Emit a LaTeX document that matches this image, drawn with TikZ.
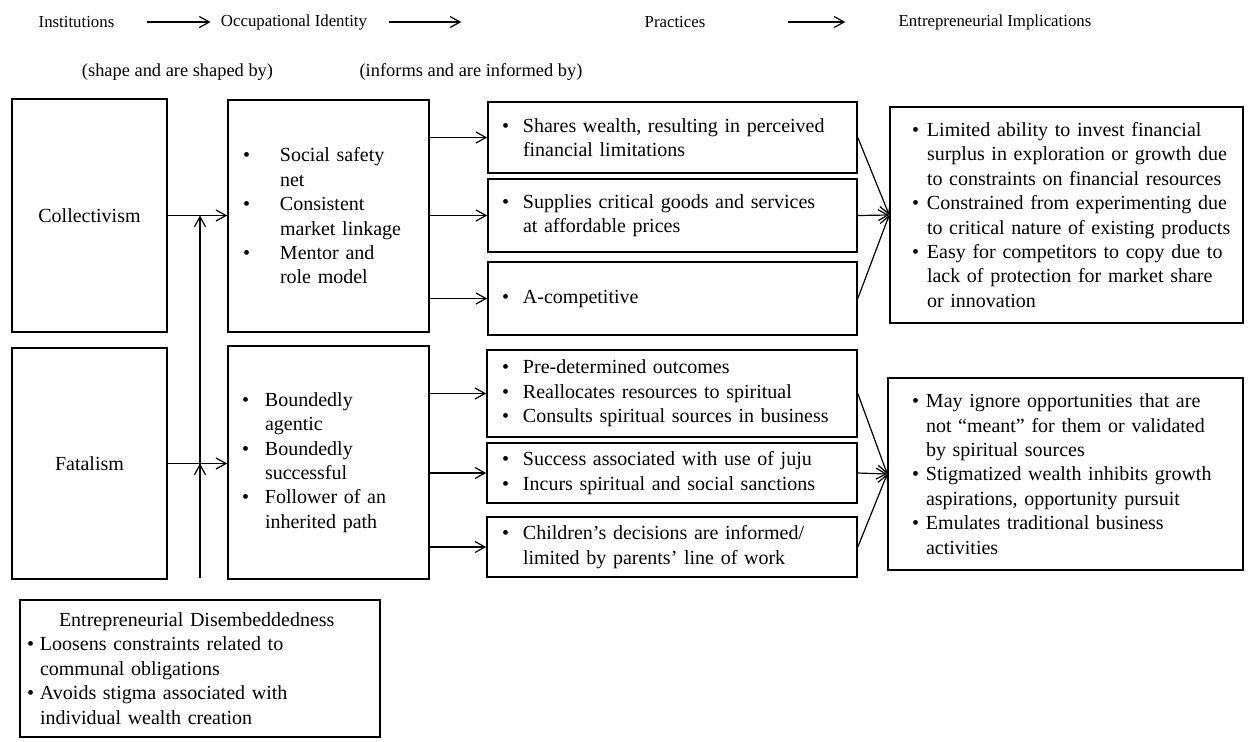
\documentclass[tikz,border=0pt]{standalone}
\usepackage{fontspec}
\setmainfont{Liberation Serif}
\usetikzlibrary{arrows.meta}

\newlength{\bulw}
\newcommand{\bul}[1]{\mbox{\makebox[\bulw][l]{\textbullet}#1}}
\newcommand{\ind}[1]{\mbox{\hspace{\bulw}#1}}

\begin{document}
\begin{tikzpicture}[
    x=0.5pt, y=-0.5pt,
    >={Straight Barb[length=5pt,width=5.5pt]},
    box/.style={draw=black, line width=0.8pt, inner sep=0pt,
        font=\fontsize{10}{12.2}\selectfont},
    listbox/.style n args={4}{box, align=left, inner xsep=#1,
        text width=#2, minimum height=#3,
        execute at begin node={\setlength{\bulw}{#4}}},
    head/.style={inner sep=0pt, font=\fontsize{8.4}{10}\selectfont},
    sub/.style={inner sep=0pt, font=\fontsize{9.2}{11}\selectfont},
    link/.style={->, line width=0.6pt}
]
    \useasboundingbox (0,0) rectangle (1248,741);

    % header row
    \node[head] (hinst) at (76.5,22) {Institutions};
    \node[head] (hocc) at (294,22) {Occupational Identity};
    \node[head] (hprac) at (675,22) {Practices};
    \node[head] (himpl) at (995,22) {Entrepreneurial Implications};
    \node[sub] (hshape) at (177.5,72) {(shape and are shaped by)};
    \node[sub] (hinform) at (471,72) {(informs and are informed by)};
    \draw[link, shorten <=16pt, shorten >=5pt] (hinst) -- (hocc);
    \draw[link, shorten <=11pt, shorten >=91.5pt] (hocc) -- (hprac);
    \draw[link, shorten <=41pt, shorten >=26.5pt] (hprac) -- (himpl);

    % institutions
    \node[box, minimum width=77.5pt, minimum height=116.5pt] (collect) at (89.5,215.5) {Collectivism};
    \node[box, minimum width=77.5pt, minimum height=115.5pt] (fatal) at (89.5,463.5) {Fatalism};

    % occupational identity
    \node[listbox={7.5pt}{85.5pt}{116pt}{18.5pt}] (socid) at (328.5,216)
        {\bul{Social safety}\\ \ind{net}\\
         \bul{Consistent}\\ \ind{market linkage}\\
         \bul{Mentor and}\\ \ind{role model}};
    \node[listbox={7pt}{86.5pt}{116.5pt}{11.5pt}] (fateid) at (328.5,462.5)
        {\bul{Boundedly}\\ \ind{agentic}\\
         \bul{Boundedly}\\ \ind{successful}\\
         \bul{Follower of an}\\ \ind{inherited path}};

    % practices
    \node[listbox={7pt}{170.5pt}{35.5pt}{10.5pt}] (pshare) at (672.5,137.5)
        {\bul{Shares wealth, resulting in perceived}\\ \ind{financial limitations}};
    \node[listbox={7pt}{170.5pt}{36.5pt}{10.5pt}] (psupply) at (672.5,215.5)
        {\bul{Supplies critical goods and services}\\ \ind{at affordable prices}};
    \node[listbox={7pt}{170.5pt}{36.5pt}{10.5pt}] (pacomp) at (672.5,298.5)
        {\bul{A-competitive}};
    \node[listbox={7.5pt}{170pt}{43.5pt}{10.5pt}] (pfate) at (672,393.5)
        {\bul{Pre-determined outcomes}\\
         \bul{Reallocates resources to spiritual}\\
         \bul{Consults spiritual sources in business}};
    \node[listbox={7.5pt}{170pt}{30pt}{10.5pt}] (pjuju) at (672,473)
        {\bul{Success associated with use of juju}\\
         \bul{Incurs spiritual and social sanctions}};
    \node[listbox={7.5pt}{170pt}{30pt}{10.5pt}] (pchild) at (672,547)
        {\bul{Children’s decisions are informed/}\\ \ind{limited by parents’ line of work}};

    % entrepreneurial implications
    \node[listbox={11pt}{154.5pt}{108pt}{7.5pt}] (ifin) at (1066.5,215)
        {\bul{Limited ability to invest financial}\\
         \ind{surplus in exploration or growth due}\\
         \ind{to constraints on financial resources}\\
         \bul{Constrained from experimenting due}\\
         \ind{to critical nature of existing products}\\
         \bul{Easy for competitors to copy due to}\\
         \ind{lack of protection for market share}\\
         \ind{or innovation}};
    \node[listbox={12pt}{153.5pt}{96pt}{7pt}] (ispirit) at (1065.5,474)
        {\bul{May ignore opportunities that are}\\
         \ind{not “meant” for them or validated}\\
         \ind{by spiritual sources}\\
         \bul{Stigmatized wealth inhibits growth}\\
         \ind{aspirations, opportunity pursuit}\\
         \bul{Emulates traditional business}\\
         \ind{activities}};

    % disembeddedness
    \node[listbox={3.5pt}{173pt}{68.5pt}{6.5pt}] (disemb) at (200,668.5)
        {\hspace*{16pt}Entrepreneurial Disembeddedness\\
         \bul{Loosens constraints related to}\\ \ind{communal obligations}\\
         \bul{Avoids stigma associated with}\\ \ind{individual wealth creation}};
    \coordinate (dtop) at (200,578);

    % connectors
    \draw[link] (collect.east) -- (collect.east -| socid.west);
    \draw[link] (fatal.east) -- (fatal.east -| fateid.west);
    \draw[link] (dtop) -- (dtop |- fatal.east);
    \draw[link] (dtop) -- (dtop |- collect.east);

    \draw[link] (socid.east |- pshare.west) -- (pshare.west);
    \draw[link] (socid.east |- psupply.west) -- (psupply.west);
    \draw[link] (socid.east |- pacomp.west) -- (pacomp.west);
    \draw[link] (fateid.east |- pfate.west) -- (pfate.west);
    \draw[link] (fateid.east |- pjuju.west) -- (pjuju.west);
    \draw[link] (fateid.east |- pchild.west) -- (pchild.west);

    \draw[link] (pshare.east) -- (ifin.west);
    \draw[link] (psupply.east) -- (ifin.west);
    \draw[link] (pacomp.east) -- (ifin.west);
    \draw[link] (pfate.east) -- (ispirit.west);
    \draw[link] (pjuju.east) -- (ispirit.west);
    \draw[link] (pchild.east) -- (ispirit.west);
\end{tikzpicture}
\end{document}
